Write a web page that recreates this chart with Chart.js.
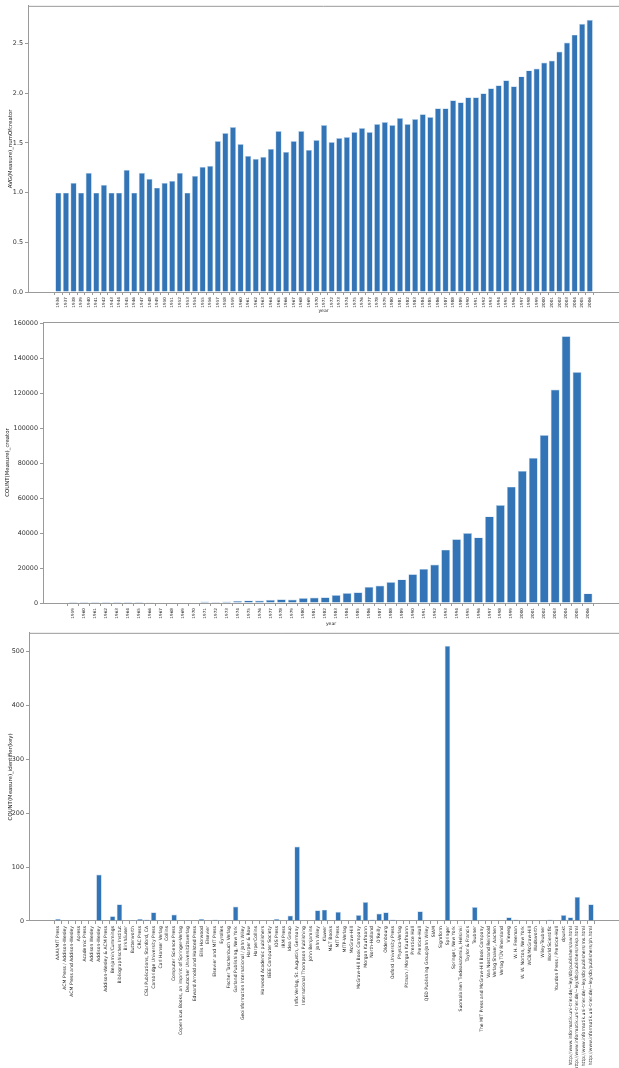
<!DOCTYPE html>
<html><head><meta charset="utf-8">
<script src="https://cdn.jsdelivr.net/npm/chart.js@4.4.1/dist/chart.umd.min.js"></script>
<style>
html,body{margin:0;padding:0;background:#fff;width:619px;height:1068px;overflow:hidden;}
.box{position:absolute;left:0;width:619px;}
</style></head><body>
<div class="box" style="top:0;height:314px"><canvas id="c1"></canvas></div>
<div class="box" style="top:314px;height:313px"><canvas id="c2"></canvas></div>
<div class="box" style="top:627px;height:441px"><canvas id="c3"></canvas></div>
<script>
// ---- Chart 1: AVG(Measure)_numOfcreator by year ----
const years1 = [1936,1937,1938,1939,1940,1941,1942,1943,1944,1945,1946,1947,1948,1949,1950,1951,1952,1953,1954,1955,1956,1957,1958,1959,1960,1961,1962,1963,1964,1965,1966,1967,1968,1969,1970,1971,1972,1973,1974,1975,1976,1977,1978,1979,1980,1981,1982,1983,1984,1985,1986,1987,1988,1989,1990,1991,1992,1993,1994,1995,1996,1997,1998,1999,2000,2001,2002,2003,2004,2005,2006];
const avgNumOfCreator = [1.0,1.0,1.1,1.0,1.2,1.0,1.08,1.0,1.0,1.23,
  1.0,1.2,1.14,1.05,1.1,1.12,1.2,1.0,1.17,1.26,
  1.27,1.52,1.6,1.66,1.49,1.37,1.34,1.36,1.44,1.62,
  1.41,1.52,1.62,1.43,1.53,1.68,1.51,1.55,1.56,1.61,
  1.65,1.61,1.69,1.71,1.68,1.75,1.69,1.74,1.79,1.76,
  1.85,1.85,1.93,1.91,1.96,1.96,2.0,2.05,2.08,2.13,
  2.07,2.17,2.23,2.25,2.31,2.33,2.42,2.51,2.59,2.7,2.74];
const yTicks1 = [0,0.5,1.0,1.5,2.0,2.5];

// ---- Chart 2: COUNT(Measure)_creator by year ----
const years2 = [1959,1960,1961,1962,1963,1964,1965,1966,1967,1968,1969,1970,1971,1972,1973,1974,1975,1976,1977,1978,1979,1980,1981,1982,1983,1984,1985,1986,1987,1988,1989,1990,1991,1992,1993,1994,1995,1996,1997,1998,1999,2000,2001,2002,2003,2004,2005,2006];
const countCreator = [50,30,40,30,50,60,60,80,150,400,150,200,
  800,600,900,1300,1500,1400,1900,2100,2000,2800,3100,3300,
  4600,5700,6100,9200,10000,12000,13500,16500,19500,22000,30500,36500,
  40000,37500,49500,56000,66500,75500,83000,96000,122000,152500,132000,5500];
const yTicks2 = [0,20000,40000,60000,80000,100000,120000,140000,160000];

// ---- Chart 3: COUNT(Measure)_identifier(key) by publisher ----
const publishers = ["AAAI/MIT Press","ACM Press / Addison-Wesley","ACM Press and Addison-Wesley","Apress","Academic Press","Addison Wesley","Addison-Wesley","Addison-Wesley & ACM Press","Benjamin/Cummings","Bibliographisches Institut","Birkhäuser","Butterworth","CRC Press","CSLI Publications, Stanford, CA","Cambridge University Press","Carl Hanser Verlag","Collins","Computer Science Press","Copernicus Books, an imprint of Springer-Verlag","Deutscher Universitätsverlag","Edward Arnold and Halsted Press","Ellis Horwood","Elsevier","Elsevier and MIT Press","Eyrolles","Fischer Taschenbuch Verlag","Garland Publishing, New York","Geoinformation International / John Wiley","Harper & Row","HarperCollins","Harwood Academic publishers","IEEE Computer Society","IOS Press","IRM Press","Idea Group","Infix Verlag, St. Augustin, Germany","International Thompson Publishing","John Benjamins","John Wiley","Kluwer","M&T Books","MIT Press","MITP-Verlag","McGraw-Hill","McGraw-Hill Book Company","Morgan Kaufmann","North-Holland","O'Reilly","Oldenbourg","Oxford University Press","Physica-Verlag","Pitman / Morgan Kaufmann","Prentice Hall","Prentice-Hall","QED Publishing Group/John Wiley","SIAM","Sigmform","Springer","Springer, New York","Suomalainen Tiedeakatemia, Helsinki","Taylor & Francis","Teubner","The MIT Press and McGraw-Hill Book Company","Van Nostrand Reinhold","Verlag Shaker, Aachen","Verlag TÜV Rheinland","Vieweg","W. H. Freeman","W. W. Norton, New York","WCB/McGraw-Hill","Wadsworth","Wiley-Teubner","World Scientific","Yourdon Press / Prentice-Hall","dpunkt","http://www.informatik.uni-trier.de/~ley/db/publishers/aw.html","http://www.informatik.uni-trier.de/~ley/db/publishers/mkp.html","http://www.informatik.uni-trier.de/~ley/db/publishers/ms.html","http://www.informatik.uni-trier.de/~ley/db/publishers/ph.html"];
const countIdentifier = [4,1,2,1,1,1,86,1,9,31,
  1,2,4,3,16,2,1,12,1,2,
  1,4,1,3,2,1,27,1,1,1,
  1,1,4,1,10,138,1,1,20,21,
  1,17,1,1,11,35,3,14,16,3,
  1,1,1,18,1,1,1,510,1,1,
  1,26,2,1,1,1,7,3,1,1,
  1,1,3,1,11,7,45,2,31];
const yTicks3 = [0,100,200,300,400,500];

const FONT = "'DejaVu Sans', sans-serif";
const AXIS = '#9a9a9a';
const BAR = '#3274b5';
const BAR_EDGE = '#bcd3ea';

const topLine = {
  id: 'topLine',
  afterDraw(chart) {
    const a = chart.chartArea, ctx = chart.ctx;
    ctx.save();
    ctx.strokeStyle = AXIS; ctx.lineWidth = 1;
    ctx.beginPath(); ctx.moveTo(a.left, a.top + 0.5); ctx.lineTo(chart.width, a.top + 0.5); ctx.stroke();
    ctx.restore();
  }
};

function build(id, o) {
  const pts = o.xs.map((x, i) => ({x: x, y: o.ys[i]}));
  return new Chart(document.getElementById(id), {
    type: 'bar',
    data: {datasets: [{data: pts, backgroundColor: BAR, borderColor: BAR_EDGE, borderWidth: 0.7,
      categoryPercentage: 1.0, barPercentage: 0.82}]},
    plugins: [topLine],
    options: {
      responsive: true, maintainAspectRatio: false, animation: false,
      devicePixelRatio: 1,
      layout: {padding: {top: o.padTop, right: 0, left: 0, bottom: 0}},
      plugins: {legend: {display: false}, tooltip: {enabled: false}},
      scales: {
        x: {
          type: 'linear', min: o.xmin, max: o.xmax, offset: false,
          afterBuildTicks: s => { s.ticks = o.xs.map(v => ({value: v})); },
          afterFit: s => { s.height = o.xh; },
          grid: {display: true, drawOnChartArea: false, drawTicks: true, tickLength: 3, color: AXIS},
          border: {display: true, color: AXIS, width: 1},
          ticks: {autoSkip: false, maxRotation: 90, minRotation: 90, padding: 2,
            font: {family: FONT, size: o.xFont}, color: '#222',
            callback: o.xLabel},
          title: {display: !!o.xTitle, text: o.xTitle, font: {family: FONT, size: 4.6}, color: '#222', padding: 0}
        },
        y: {
          min: 0, max: o.ymax,
          afterBuildTicks: s => { s.ticks = o.yTicks.map(v => ({value: v})); },
          afterFit: s => { s.width = o.yw; },
          grid: {display: true, drawOnChartArea: false, drawTicks: true, tickLength: 3, color: AXIS},
          border: {display: true, color: AXIS, width: 1},
          ticks: {padding: 2, font: {family: FONT, size: 6.4}, color: '#333', callback: o.yFmt},
          title: {display: true, text: o.yTitle, font: {family: FONT, size: 5.4}, color: '#222',
            padding: {top: o.yTitlePad, bottom: 0}}
        }
      }
    }
  });
}

build('c1', {
  xs: years1, ys: avgNumOfCreator, xmin: 1932.0, xmax: 2009.85, xh: 22, padTop: 4,
  xLabel: v => String(v), xFont: 4.2, xTitle: 'year',
  ymax: 2.88, yTicks: yTicks1, yFmt: v => Number(v).toFixed(1), yw: 28,
  yTitle: 'AVG(Measure)_numOfcreator', yTitlePad: 7
});

build('c2', {
  xs: years2, ys: countCreator, xmin: 1956.23, xmax: 2008.83, xh: 24, padTop: 8,
  xLabel: v => String(v), xFont: 4.2, xTitle: 'year',
  ymax: 160600, yTicks: yTicks2, yFmt: v => String(v), yw: 43,
  yTitle: 'COUNT(Measure)_creator', yTitlePad: 4
});

const pubIdx = publishers.map((p, i) => i);
build('c3', {
  xs: pubIdx, ys: countIdentifier, xmin: -4.24, xmax: 82.1, xh: 147, padTop: 5,
  xLabel: v => publishers[v], xFont: 4.55, xTitle: '',
  ymax: 534, yTicks: yTicks3, yFmt: v => String(v), yw: 29,
  yTitle: 'COUNT(Measure)_identifier(key)', yTitlePad: 7
});
</script>
</body></html>
